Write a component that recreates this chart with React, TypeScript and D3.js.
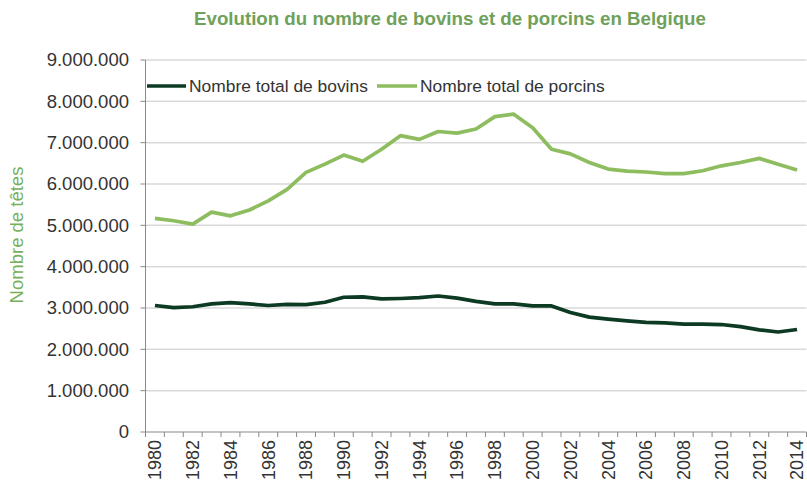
import React from "react";
import * as d3 from "d3";

const years: number[] = d3.range(1980, 2015);
const bovins: number[] = [
  3.06, 3.01, 3.03, 3.10, 3.13, 3.10, 3.06, 3.09, 3.08, 3.14,
  3.26, 3.27, 3.22, 3.23, 3.25, 3.29, 3.24, 3.16, 3.10, 3.10,
  3.05, 3.05, 2.89, 2.78, 2.73, 2.69, 2.65, 2.64, 2.61, 2.61,
  2.60, 2.55, 2.47, 2.42, 2.48,
].map((v) => v * 1e6);
const porcins: number[] = [
  5.17, 5.11, 5.03, 5.32, 5.23, 5.37, 5.59, 5.87, 6.28, 6.48,
  6.70, 6.55, 6.84, 7.17, 7.08, 7.27, 7.23, 7.33, 7.63, 7.69,
  7.36, 6.84, 6.73, 6.52, 6.36, 6.31, 6.29, 6.25, 6.25, 6.32,
  6.44, 6.52, 6.62, 6.48, 6.34,
].map((v) => v * 1e6);
const yTicks: number[] = d3.range(0, 9000001, 1000000);
const xLabels: number[] = years.filter((y) => (y - 1980) % 2 === 0);

const fmt = (v: number) =>
  v === 0 ? "0" : d3.format(",")(v).replace(/,/g, ".");

export default function App() {
  const W = 807, H = 485;
  const left = 145.5, right = 806.5, top = 60, bottom = 432;
  const x = d3.scaleBand<number>().domain(years).range([left, right]).padding(0);
  const y = d3.scaleLinear().domain([0, 9000000]).range([bottom, top]);
  const cx = (yr: number) => (x(yr) as number) + x.bandwidth() / 2;
  const line = d3
    .line<number>()
    .x((_, i) => cx(years[i]))
    .y((d) => y(d))
    .curve(d3.curveLinear);
  const font = "'Liberation Sans', Arial, sans-serif";
  const darkGreen = "#0d3a22";
  const lightGreen = "#8dbd5e";
  const bounds = years.map((yr) => x(yr) as number).concat([right]);
  return (
    <svg
      width={W}
      height={H}
      style={{ position: "absolute", left: 0, top: 0, background: "#fff" }}
      fontFamily={font}
    >
      <text x={450} y={25} textAnchor="middle" fontSize={18.7} fontWeight="bold" fill="#6fa15a">
        Evolution du nombre de bovins et de porcins en Belgique
      </text>
      {yTicks.map((t) => (
        <g key={t}>
          {t > 0 && (
            <line x1={left} x2={right} y1={y(t)} y2={y(t)} stroke="#d9d9d9" strokeWidth={1.5} />
          )}
          <line x1={left - 5} x2={left} y1={y(t)} y2={y(t)} stroke="#898989" />
          <text x={129} y={y(t)} dy="0.35em" textAnchor="end" fontSize={18.5} fill="#333">
            {fmt(t)}
          </text>
        </g>
      ))}
      <line x1={left} x2={left} y1={top} y2={bottom} stroke="#898989" />
      <line x1={left} x2={right} y1={bottom} y2={bottom} stroke="#898989" />
      {bounds.map((b, i) => (
        <line key={i} x1={b} x2={b} y1={bottom} y2={bottom + 5} stroke="#898989" />
      ))}
      {xLabels.map((yr) => (
        <text
          key={yr}
          transform={`translate(${cx(yr)},${bottom + 8}) rotate(-90)`}
          textAnchor="end"
          dy="0.35em"
          fontSize={18}
          fill="#333"
        >
          {yr}
        </text>
      ))}
      <text
        transform={`translate(23,235) rotate(-90)`}
        textAnchor="middle"
        fontSize={18.5}
        fill="#77b05a"
      >
        Nombre de têtes
      </text>
      <path d={line(porcins) || ""} fill="none" stroke={lightGreen} strokeWidth={3.7} strokeLinejoin="round" />
      <path d={line(bovins) || ""} fill="none" stroke={darkGreen} strokeWidth={3.7} strokeLinejoin="round" />
      <g>
        <line x1={147} x2={186} y1={86} y2={86} stroke={darkGreen} strokeWidth={3.7} />
        <text x={189} y={86} dy="0.35em" fontSize={17.4} fill="#333">
          Nombre total de bovins
        </text>
        <line x1={377} x2={417} y1={86} y2={86} stroke={lightGreen} strokeWidth={3.7} />
        <text x={420} y={86} dy="0.35em" fontSize={17.4} fill="#333">
          Nombre total de porcins
        </text>
      </g>
    </svg>
  );
}
